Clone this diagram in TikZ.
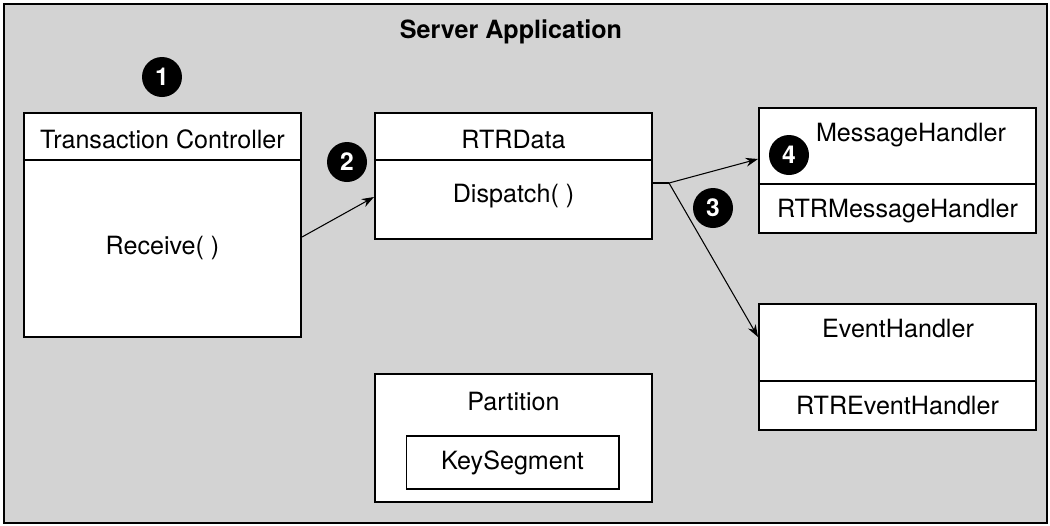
\documentclass[tikz,border=0pt]{standalone}
\usepackage{fontspec}
\setmainfont{TeX Gyre Heros}
\usetikzlibrary{arrows.meta}
\definecolor{bggray}{RGB}{211,211,211}

\begin{document}
\begin{tikzpicture}[x=0.02cm,y=-0.02cm,font=\fontsize{14.3}{17}\selectfont,
    box/.style={draw,line width=1.2pt,fill=white,inner sep=0pt},
    num/.style={circle,fill=black,text=white,font=\fontsize{14}{16}\selectfont\bfseries,minimum size=0.8cm,inner sep=0pt},
    lbl/.style={anchor=base,inner sep=0pt},
    sep/.style={line width=0.6pt},
    >={Stealth[length=7pt,width=5pt]}]
\useasboundingbox (0,0) rectangle (1050,525);
\draw[line width=1.2pt,fill=bggray] (4,4) rectangle (1047,523);
\node[lbl,font=\fontsize{14.3}{17}\selectfont\bfseries](title) at (511,38){Server Application};

\node[box,minimum width=5.54cm,minimum height=4.48cm](tc) at (162.5,225){};
\node[box,minimum width=5.54cm,minimum height=2.52cm](rtr) at (513.5,176){};
\node[box,minimum width=5.54cm,minimum height=2.5cm](mh) at (897.5,170.5){};
\node[box,minimum width=5.54cm,minimum height=2.52cm](eh) at (897.5,367){};
\node[box,minimum width=5.54cm,minimum height=2.56cm](part) at (513.5,438){};
\node[box,line width=0.6pt,minimum width=4.26cm,minimum height=1.06cm](key) at (512.5,462.5){};

\draw[sep] (tc.west |- 0,160) -- (tc.east |- 0,160);
\draw[sep] (rtr.west |- 0,160) -- (rtr.east |- 0,160);
\draw[sep] (mh.west |- 0,184) -- (mh.east |- 0,184);
\draw[sep] (eh.west |- 0,381) -- (eh.east |- 0,381);

\node[lbl](tctitle) at (162.5,148){Transaction Controller};
\node[lbl](receive) at (162.5,254){Receive( )};
\node[lbl](rtrtitle) at (513.5,148){RTRData};
\node[lbl](dispatch) at (513.5,202){Dispatch( )};
\node[lbl](mhtitle) at (911,141){MessageHandler};
\node[lbl](rtrmh) at (897.5,217){RTRMessageHandler};
\node[lbl](ehtitle) at (898,337){EventHandler};
\node[lbl](rtreh) at (897.5,414){RTREventHandler};
\node[lbl](parttitle) at (513.5,410){Partition};
\node[lbl](keyseg) at (512.5,469){KeySegment};

\node[num](n1) at (162,77){1};
\node[num](n2) at (347,162){2};
\node[num](n3) at (713,208){3};
\node[num](n4) at (789,155){4};

\coordinate (fork) at (669,183);
\draw[->,line width=0.6pt] (tc.east |- 0,237) -- (rtr.west |- 0,197);
\draw[line width=0.6pt] (rtr.east |- fork) -- (fork);
\draw[->,line width=0.6pt] (fork) -- (mh.west |- 0,159);
\draw[->,line width=0.6pt] (fork) -- (eh.west |- 0,337);
\end{tikzpicture}
\end{document}
